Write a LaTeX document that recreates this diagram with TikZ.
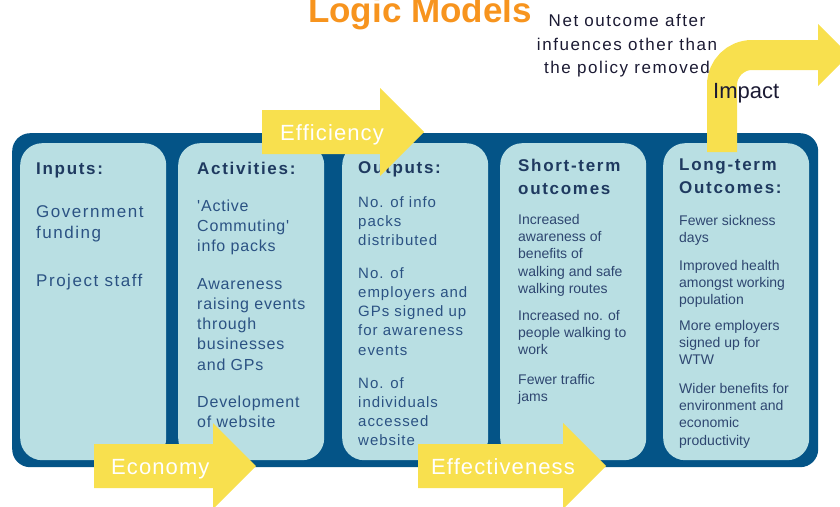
\documentclass[tikz,border=0pt]{standalone}
\usepackage{fontspec}
\setmainfont{Liberation Sans}
\newfontfamily\spc[LetterSpace=10]{Liberation Sans}
\newfontfamily\spci[LetterSpace=9]{Liberation Sans}
\newfontfamily\spca[LetterSpace=5]{Liberation Sans}
\newfontfamily\spco[LetterSpace=6.5]{Liberation Sans}
\newfontfamily\spcs[LetterSpace=5]{Liberation Sans}
\newfontfamily\spcn[LetterSpace=9]{Liberation Sans}
\definecolor{dblue}{HTML}{045487}
\definecolor{lblue}{HTML}{B9DFE3}
\definecolor{headc}{HTML}{1F3A60}
\definecolor{bodyc}{HTML}{2B5283}
\definecolor{smallc}{HTML}{2E4670}
\definecolor{ayellow}{HTML}{F8E04E}
\definecolor{orangec}{HTML}{F7941E}
\definecolor{darkc}{HTML}{1B1A33}
\newcommand{\mylinesl}[1]{\begin{tabular}[t]{@{}l@{}}#1\end{tabular}}
\newcommand{\mylinesc}[1]{\begin{tabular}[t]{@{}c@{}}#1\end{tabular}}
\tikzset{
  frame/.style={fill=dblue, rounded corners=18pt, inner sep=0, anchor=north west},
  panel/.style={fill=lblue, rounded corners=22pt, inner sep=0, anchor=north west, minimum width=146pt, minimum height=317pt},
  head/.style={anchor=base west, inner sep=0, text=headc, font=\spc\fontsize{17}{23}\selectfont\bfseries},
  body/.style={anchor=base west, inner sep=0, text=bodyc, font=\spca\fontsize{16}{20.3}\selectfont},
  bodyo/.style={anchor=base west, inner sep=0, text=bodyc, font=\spco\fontsize{15}{19.3}\selectfont},
  bodyi/.style={anchor=base west, inner sep=0, text=bodyc, font=\spci\fontsize{17}{21}\selectfont},
  small/.style={anchor=base west, inner sep=0, text=smallc, font=\fontsize{14}{17.4}\selectfont},
  alabel/.style={anchor=base west, inner sep=0, text=white, font=\spcs\fontsize{22}{26}\selectfont},
  yarrow/.style={fill=ayellow}
}
\begin{document}
\begin{tikzpicture}[x=1pt,y=-1pt]
\useasboundingbox (0,0) rectangle (840,506);
% title
\node[anchor=base, inner sep=0, text=orangec, font=\fontsize{35}{40}\selectfont\bfseries] (title) at (420,22) {Logic Models};
% frame and panels
\node[frame, minimum width=806pt, minimum height=334pt] (frm) at (12,133) {};
\node[panel] (p1) at (20,143) {};
\node[panel] (p2) at (178,143) {};
\node[panel] (p3) at (342,143) {};
\node[panel] (p4) at (500,143) {};
\node[panel] (p5) at (663,143) {};
% Inputs
\node[head] (h1) at (36,174) {Inputs:};
\node[bodyi] (i1) at (36,217) {\mylinesl{Government\\funding}};
\node[bodyi] (i2) at (36,286) {Project staff};
% Activities
\node[head] (h2) at (197,174) {Activities:};
\node[body] (a1) at (197,211) {\mylinesl{'Active\\Commuting'\\info packs}};
\node[body] (a2) at (197,289) {\mylinesl{Awareness\\raising events\\through\\businesses\\and GPs}};
\node[body] (a3) at (197,407) {\mylinesl{Development\\of website}};
% Outputs
\node[head] (h3) at (358,173) {Outputs:};
\node[bodyo] (o1) at (358,207) {\mylinesl{No. of info\\packs\\distributed}};
\node[bodyo] (o2) at (358,278) {\mylinesl{No. of\\employers and\\GPs signed up\\for awareness\\events}};
\node[bodyo] (o3) at (358,388) {\mylinesl{No. of\\individuals\\accessed\\website}};
% Short-term
\node[head] (h4) at (518,171) {\mylinesl{Short-term\\outcomes}};
\node[small] (s1) at (518,224) {\mylinesl{Increased\\awareness of\\benefits of\\walking and safe\\walking routes}};
\node[small] (s2) at (518,320) {\mylinesl{Increased no. of\\people walking to\\work}};
\node[small] (s3) at (518,384) {\mylinesl{Fewer traffic\\jams}};
% Long-term
\node[head] (h5) at (679,170) {\mylinesl{Long-term\\Outcomes:}};
\node[small] (l1) at (679,225) {\mylinesl{Fewer sickness\\days}};
\node[small] (l2) at (679,270) {\mylinesl{Improved health\\amongst working\\population}};
\node[small] (l3) at (679,330) {\mylinesl{More employers\\signed up for\\WTW}};
\node[small] (l4) at (679,393) {\mylinesl{Wider benefits for\\environment and\\economic\\productivity}};
% Efficiency arrow
\fill[yarrow] (262,110) -- (380,110) -- (380,88) -- (424,132) -- (380,176) -- (380,154) -- (262,154) -- cycle;
\node[alabel] (eff) at (280,140) {Efficiency};
% Economy arrow
\fill[yarrow] (94,444) -- (213,444) -- (213,423) -- (256,466) -- (213,509) -- (213,488) -- (94,488) -- cycle;
\node[alabel] (eco) at (111,474) {Economy};
% Effectiveness arrow
\fill[yarrow] (418,444) -- (563,444) -- (563,423) -- (606,466) -- (563,509) -- (563,488) -- (418,488) -- cycle;
\node[alabel] (efv) at (431,474) {Effectiveness};
% Impact arrow
\draw[ayellow, line width=30pt, rounded corners=30pt] (722,152) -- (722,55) -- (819,55);
\fill[yarrow] (818,24) -- (849,55) -- (818,86) -- cycle;
\node[anchor=base west, inner sep=0, text=darkc, font=\fontsize{22}{26}\selectfont] (imp) at (713,98) {Impact};
\node[anchor=base, inner sep=0, text=darkc, font=\spcn\fontsize{17}{23.5}\selectfont] (net) at (627,27) {\mylinesc{Net outcome after\\infuences other than\\the policy removed}};
\end{tikzpicture}
\end{document}
